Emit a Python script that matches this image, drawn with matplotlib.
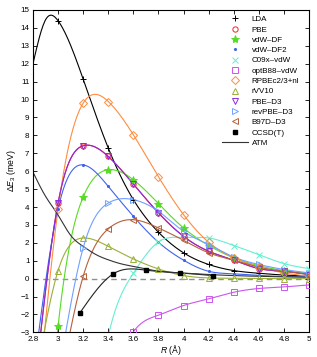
import numpy as np
import matplotlib
matplotlib.use("Agg")
import matplotlib.pyplot as plt

plt.rcParams['font.family'] = ['Liberation Sans', 'DejaVu Sans']
plt.rcParams['mathtext.fontset'] = 'custom'
plt.rcParams['mathtext.rm'] = 'Liberation Sans'
plt.rcParams['mathtext.it'] = 'Liberation Sans:italic'

# separation R (Angstrom) and three-body energy (meV)
R_full = [2.8, 3.0, 3.2, 3.4, 3.6, 3.8, 4.0, 4.2, 4.4, 4.6, 4.8, 5.0]
R_lda = [2.8, 2.9, 3.0, 3.2, 3.4, 3.6, 3.8, 4.0, 4.2, 4.4, 4.6, 4.8, 5.0]

lda = [12.0, 14.45, 14.4, 11.14, 7.29, 4.41, 2.59, 1.44, 0.79, 0.45, 0.30, 0.20, 0.15]
pbe = [-7.0, 4.22, 7.42, 6.82, 5.28, 3.67, 2.36, 1.53, 1.03, 0.56, 0.41, 0.23]
vdw_df = [-20.0, -2.65, 4.56, 6.08, 5.52, 4.19, 2.83, 1.85, 1.16, 0.72, 0.45, 0.30]
vdw_df2 = [-5.5, 3.9, 6.35, 5.15, 3.48, 2.03, 1.03, 0.41, 0.27, 0.18, 0.12, 0.10]
R_c09 = [3.2, 3.4, 3.6, 3.8, 4.0, 4.2, 4.4, 4.6, 4.8, 5.0]
c09x = [-12.0, -3.2, 0.3, 2.05, 2.3, 2.27, 1.85, 1.34, 0.84, 0.56]
R_opt = [3.4, 3.6, 3.8, 4.0, 4.2, 4.4, 4.6, 4.8, 5.0]
optb88 = [-6.0, -2.97, -2.04, -1.50, -1.13, -0.76, -0.55, -0.46, -0.35]
rpbe = [-10.0, 3.89, 9.80, 9.89, 8.03, 5.69, 3.57, 2.03, 1.16, 0.65, 0.32, 0.14]
rvv10 = [-6.5, 0.45, 2.27, 1.80, 1.10, 0.54, 0.17, 0.04, 0.02, 0.01, 0.0, 0.0]
pbe_d3 = [-7.0, 4.22, 7.42, 6.82, 5.28, 3.67, 2.36, 1.53, 1.03, 0.56, 0.41, 0.23]
R_d3 = [3.0, 3.2, 3.4, 3.6, 3.8, 4.0, 4.2, 4.4, 4.6, 4.8, 5.0]
revpbe_d3 = [-5.5, 1.72, 4.22, 4.41, 3.76, 2.64, 1.90, 1.21, 0.79, 0.51, 0.32]
b97d_d3 = [-6.5, 0.13, 2.78, 3.29, 2.83, 2.14, 1.44, 1.03, 0.64, 0.41, 0.23]

R_cc = [3.175, 3.440, 3.704, 3.969, 4.233]
ccsdt = [-1.9, 0.27, 0.47, 0.32, 0.17]

R_atm = [2.8, 2.9, 3.0, 3.1, 3.2, 3.3, 3.4, 3.5, 3.6, 3.8, 4.0, 4.2, 4.4, 4.6, 4.8, 5.0]
atm = [5.95, 4.6, 3.55, 2.42, 1.8, 1.35, 1.05, 0.83, 0.68, 0.42, 0.31, 0.23, 0.17, 0.13, 0.10, 0.08]


def natural_spline(x, y, n=300):
    x = np.asarray(x, float); y = np.asarray(y, float)
    k = len(x); h = np.diff(x)
    A = np.zeros((k, k)); b = np.zeros(k)
    A[0, 0] = A[-1, -1] = 1.0
    for i in range(1, k - 1):
        A[i, i - 1] = h[i - 1]; A[i, i] = 2 * (h[i - 1] + h[i]); A[i, i + 1] = h[i]
        b[i] = 6 * ((y[i + 1] - y[i]) / h[i] - (y[i] - y[i - 1]) / h[i - 1])
    m = np.linalg.solve(A, b)
    xs = np.linspace(x[0], x[-1], n)
    j = np.clip(np.searchsorted(x, xs) - 1, 0, k - 2)
    t = xs - x[j]; hj = h[j]
    a = (m[j + 1] - m[j]) / (6 * hj)
    c = (y[j + 1] - y[j]) / hj - hj * (2 * m[j] + m[j + 1]) / 6
    ys = y[j] + c * t + m[j] / 2 * t ** 2 + a * t ** 3
    return xs, ys


fig, ax = plt.subplots(figsize=(3.17, 3.57), dpi=100)
fig.subplots_adjust(left=0.104, right=0.975, bottom=0.069, top=0.972)

ax.axhline(0, color='#909090', lw=1.0, ls=(0, (4, 3)), zorder=1)

series = [
    ('LDA', R_lda, lda, 'black', '+', 'full'),
    ('PBE', R_full, pbe, '#ff2020', 'o', 'none'),
    ('vdW\u2013DF', R_full, vdw_df, '#55dd22', '*', 'full'),
    ('vdW\u2013DF2', R_full, vdw_df2, '#3f63ee', '.', 'full'),
    ('C09x\u2013vdW', R_c09, c09x, '#66eed0', 'x', 'full'),
    ('optB88\u2013vdW', R_opt, optb88, '#cc55ee', 's', 'none'),
    ('RPBEc2/3+nl', R_full, rpbe, '#ff8c40', 'D', 'none'),
    ('rVV10', R_full, rvv10, '#99b035', '^', 'none'),
    ('PBE\u2013D3', R_full, pbe_d3, '#8a2be2', 'v', 'none'),
    ('revPBE\u2013D3', R_d3, revpbe_d3, '#70a0ff', '>', 'none'),
    ('B97D\u2013D3', R_d3, b97d_d3, '#b5603a', '<', 'none'),
]

for name, rx, ry, col, mk, fill in series:
    xs, ys = natural_spline(rx, ry)
    ax.plot(xs, ys, color=col, lw=0.8, zorder=2)
    keep = [i for i, r in enumerate(rx) if abs(r * 5 - round(r * 5)) < 1e-6]
    ms = 4.5 if mk in ('+', 'x') else (6 if mk == '*' else 3.8)
    if mk == '.':
        ms = 3
    ax.plot([rx[i] for i in keep], [ry[i] for i in keep], ls='none', marker=mk,
            color=col, ms=ms, mew=0.7, fillstyle=fill, label=name, zorder=3)

xs, ys = natural_spline(R_cc, ccsdt)
ax.plot(xs, ys, color='#222222', lw=0.8, zorder=2)
ax.plot(R_cc, ccsdt, ls='none', marker='s', color='black', ms=3.5, label='CCSD(T)', zorder=4)

xs, ys = natural_spline(R_atm, atm)
ax.plot(xs, ys, color='#333333', lw=0.8, label='ATM', zorder=2)

ax.set_xlim(2.8, 5.0)
ax.set_ylim(-3, 15)
ax.set_xticks(np.arange(2.8, 5.01, 0.2))
ax.set_xticklabels(['2.8', '3', '3.2', '3.4', '3.6', '3.8', '4', '4.2', '4.4', '4.6', '4.8', '5'])
ax.set_yticks(np.arange(-3, 16, 1))
ax.tick_params(direction='in', top=True, right=True, labelsize=5.8, length=3, width=0.6, pad=2.5)
for sp in ax.spines.values():
    sp.set_linewidth(0.8)

ax.set_xlabel(r'$R$ (Å)', fontsize=6.2, labelpad=0)
ax.set_ylabel(r'$\Delta E_3$ (meV)', fontsize=6.2, labelpad=2)

ax.legend(loc='upper right', frameon=False, fontsize=5.8, handlelength=3.2,
          handletextpad=0.5, labelspacing=0.33, borderaxespad=0.3,
          bbox_to_anchor=(0.985, 1.0))

fig.savefig('out.png', dpi=100)
